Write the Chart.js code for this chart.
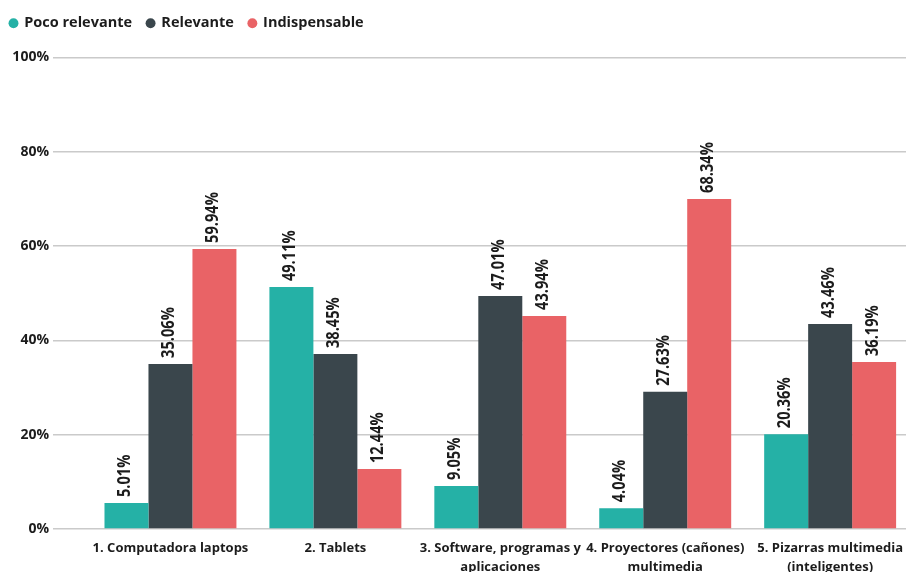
<!DOCTYPE html>
<html>
<head>
<meta charset="utf-8">
<script src="https://cdn.jsdelivr.net/npm/chart.js@4/dist/chart.umd.min.js"></script>
<style>
html, body { margin: 0; padding: 0; overflow: hidden; background: #fff; width: 906px; height: 572px; }
#wrap { width: 913px; height: 572px; }
</style>
</head>
<body>
<div id="wrap"><canvas id="c" width="913" height="572"></canvas></div>
<script>
// Categories (multi-line labels)
const categories = [
  ['1. Computadora laptops'],
  ['2. Tablets'],
  ['3. Software, programas y', 'aplicaciones'],
  ['4. Proyectores (cañones)', 'multimedia'],
  ['5. Pizarras multimedia', '(inteligentes)']
];
const seriesNames = ['Poco relevante', 'Relevante', 'Indispensable'];

// Bar heights (%)
const pocoRelevante = [5.5, 51.3, 9.1, 4.4, 20.1];
const relevante     = [35.0, 37.1, 49.4, 29.1, 43.5];
const indispensable = [59.4, 12.7, 45.2, 70.0, 35.4];

// Printed value labels
const pocoLabels   = ['5.01%', '49.11%', '9.05%', '4.04%', '20.36%'];
const relevLabels  = ['35.06%', '38.45%', '47.01%', '27.63%', '43.46%'];
const indispLabels = ['59.94%', '12.44%', '43.94%', '68.34%', '36.19%'];

// Y axis ticks
const yTicks = [0, 20, 40, 60, 80, 100];

const colors = ['#25B1A6', '#3A464C', '#E96366'];
const labelSets = [pocoLabels, relevLabels, indispLabels];

const valueLabelPlugin = {
  id: 'valueLabels',
  afterDatasetsDraw(chart) {
    const ctx = chart.ctx;
    ctx.save();
    ctx.font = 'bold 17px "Open Sans"';
    ctx.fillStyle = '#1c1c1c';
    ctx.textAlign = 'left';
    ctx.textBaseline = 'middle';
    chart.data.datasets.forEach((ds, di) => {
      const meta = chart.getDatasetMeta(di);
      meta.data.forEach((el, i) => {
        ctx.save();
        ctx.translate(el.x - 1, el.y - 6);
        ctx.rotate(-Math.PI / 2);
        ctx.scale(0.86, 1);
        ctx.fillText(labelSets[di][i], 0, 0);
        ctx.restore();
      });
    });
    ctx.restore();
  }
};

const legendHeightPlugin = {
  id: 'legendHeight',
  beforeInit(chart) {
    const fit = chart.legend.fit;
    chart.legend.fit = function () {
      fit.bind(chart.legend)();
      this.height = 56.5;
    };
  },
  afterLayout(chart) {
    chart.legend.left -= 5;
  }
};

new Chart(document.getElementById('c'), {
  type: 'bar',
  data: {
    labels: categories,
    datasets: [
      { label: seriesNames[0], data: pocoRelevante, backgroundColor: colors[0] },
      { label: seriesNames[1], data: relevante, backgroundColor: colors[1] },
      { label: seriesNames[2], data: indispensable, backgroundColor: colors[2] }
    ]
  },
  options: {
    responsive: false,
    animation: false,
    layout: { padding: { left: 0, right: 0, top: 1, bottom: 0 } },
    datasets: { bar: { categoryPercentage: 0.8, barPercentage: 1.0 } },
    plugins: {
      tooltip: { enabled: false },
      legend: {
        position: 'top',
        align: 'start',
        labels: {
          usePointStyle: true,
          pointStyle: 'circle',
          boxWidth: 7,
          boxHeight: 7,
          padding: 15,
          color: '#1c1c1c',
          font: { family: '"Open Sans"', size: 14.5, weight: 'bold' }
        }
      }
    },
    scales: {
      x: {
        grid: { display: false, drawTicks: false },
        border: { display: false },
        ticks: {
          color: '#1c1c1c',
          padding: 10,
          maxRotation: 0,
          autoSkip: false,
          font: { family: '"Open Sans"', size: 13, weight: 'bold', lineHeight: 1.45 }
        },
        afterFit(axis) { axis.height = 43; }
      },
      y: {
        min: 0,
        max: 100,
        afterBuildTicks(axis) { axis.ticks = yTicks.map(v => ({ value: v })); },
        grid: { color: '#CACACA', lineWidth: 1.5, tickLength: 35, drawTicks: true },
        border: { display: false },
        ticks: {
          color: '#1c1c1c',
          padding: 4,
          font: { family: '"Open Sans"', size: 14, weight: 'bold' },
          callback: v => v + '%'
        },
        afterFit(axis) { axis.width = 88; }
      }
    }
  },
  plugins: [valueLabelPlugin, legendHeightPlugin]
});
</script>
</body>
</html>
